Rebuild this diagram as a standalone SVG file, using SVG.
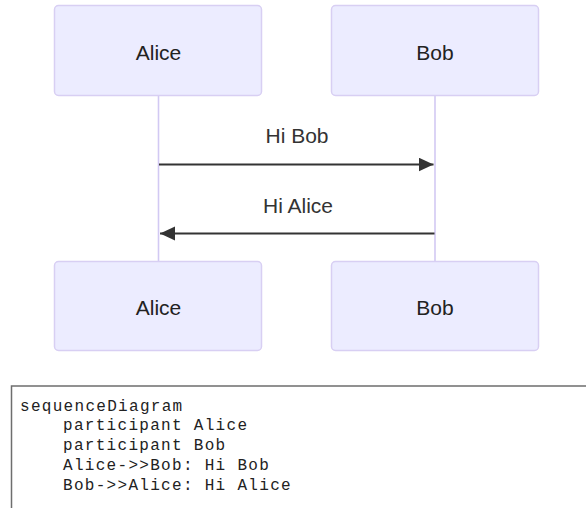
<svg xmlns="http://www.w3.org/2000/svg" width="586" height="508" viewBox="0 0 586 508">
  <defs>
    <marker id="arrowhead" markerUnits="userSpaceOnUse" markerWidth="16" markerHeight="15" refX="15" refY="7" orient="auto">
      <path d="M0,0 L15,7 L0,14 z" fill="#333333"/>
    </marker>
    <style>
      .actor { fill: #ECECFF; stroke: #d8cff3; stroke-width: 1.5; }
      .actor-text { font-family: "Liberation Sans", Arial, sans-serif; font-size: 21px; fill: #222222; text-anchor: middle; }
      .lifeline { stroke: #d2c9f3; stroke-width: 1.6; }
      .msg { stroke: #333333; stroke-width: 2; fill: none; marker-end: url(#arrowhead); }
      .msg-text { font-family: "Liberation Sans", Arial, sans-serif; font-size: 21px; fill: #333333; text-anchor: middle; }
      .code-box { fill: #ffffff; stroke: #6e6e6e; stroke-width: 1.5; }
      .code { font-family: "Liberation Mono", "Courier New", monospace; font-size: 16px; letter-spacing: 1.3px; fill: #222222; }
    </style>
  </defs>
  <rect width="586" height="508" fill="#ffffff"/>

  <g id="lifelines">
    <line class="lifeline" x1="158.5" y1="96" x2="158.5" y2="261"/>
    <line class="lifeline" x1="435" y1="96" x2="435" y2="261"/>
  </g>

  <g id="actor-alice-top">
    <rect class="actor" x="54.5" y="5.5" width="207" height="90" rx="4"/>
    <text class="actor-text" x="158.5" y="60">Alice</text>
  </g>
  <g id="actor-bob-top">
    <rect class="actor" x="331.5" y="5.5" width="207" height="90" rx="4"/>
    <text class="actor-text" x="435" y="60">Bob</text>
  </g>
  <g id="actor-alice-bottom">
    <rect class="actor" x="54.5" y="261.5" width="207" height="89" rx="4"/>
    <text class="actor-text" x="158.5" y="315">Alice</text>
  </g>
  <g id="actor-bob-bottom">
    <rect class="actor" x="331.5" y="261.5" width="207" height="89" rx="4"/>
    <text class="actor-text" x="435" y="315">Bob</text>
  </g>

  <g id="connectors">
    <line class="msg" x1="159" y1="164.5" x2="433.5" y2="164.5"/>
    <line class="msg" x1="434.5" y1="233.5" x2="160" y2="233.5"/>
  </g>
  <g id="message-labels">
    <text class="msg-text" x="297" y="143">Hi Bob</text>
    <text class="msg-text" x="298" y="212.5">Hi Alice</text>
  </g>

  <g id="code">
    <rect class="code-box" x="11.5" y="386" width="600" height="200"/>
    <text class="code" x="20" y="410.5">sequenceDiagram</text>
    <text class="code" x="63" y="430.3">participant Alice</text>
    <text class="code" x="63" y="450.1">participant Bob</text>
    <text class="code" x="63" y="469.9">Alice-&gt;&gt;Bob: Hi Bob</text>
    <text class="code" x="63" y="489.7">Bob-&gt;&gt;Alice: Hi Alice</text>
  </g>
</svg>
